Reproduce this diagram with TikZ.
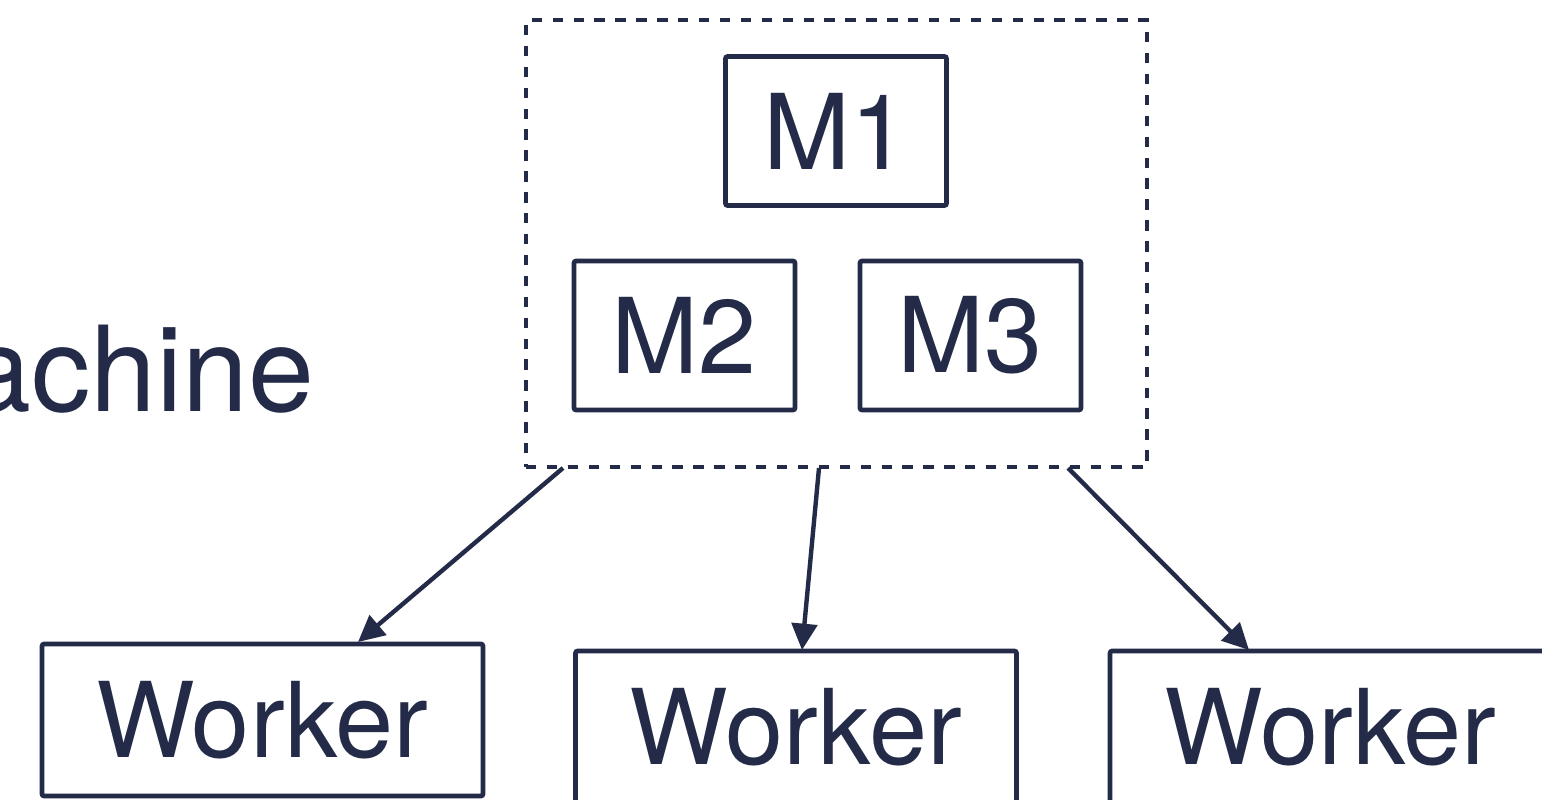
\documentclass[tikz,border=0pt]{standalone}
\usepackage{fontspec}
\setmainfont{TeX Gyre Heros}
\usetikzlibrary{arrows.meta}
\definecolor{ink}{RGB}{35,43,72}
\begin{document}
\begin{tikzpicture}[x=0.02cm,y=-0.02cm,
  box/.style={draw=ink, line width=2.7pt, rounded corners=1.2pt, inner sep=0pt,
    text=ink, font=\fontsize{59.5}{70}\selectfont},
  mbox/.style={box, minimum width=4.42cm, minimum height=2.98cm},
  wbox/.style={box, minimum width=8.82cm, minimum height=3.04cm},
  group/.style={draw=ink, line width=2.7pt, dash pattern=on 5.9pt off 6.0pt, inner sep=0pt},
  link/.style={draw=ink, line width=2.5pt, -{Triangle[length=15pt,width=14.5pt]}}]
\useasboundingbox (0,0) rectangle (1542,799);
\clip (0,0) rectangle (1542,799);
\fill[white] (0,0) rectangle (1542,799);

% side label
\node[anchor=base west, text=ink, inner sep=0pt, font=\fontsize{67.5}{80}\selectfont] (lbl) at (-35,411) {achine};

% master group
\node[group, minimum width=12.42cm, minimum height=8.94cm] (grp) at (836.5,243.5) {};
\node[mbox] (m1) at (836,131) {M1};
\node[mbox] (m2) at (684.5,335.5) {M2};
\node[mbox] (m3) at (970.5,335.5) {M3};

% workers
\node[wbox] (w1) at (262.5,720) {Worker};
\node[wbox] (w2) at (796,727) {Worker};
\node[wbox] (w3) at (1330.5,727) {Worker};

% connectors
\coordinate (s1) at (563,468);
\coordinate (s2) at (819,468);
\coordinate (s3) at (1068,468);
\coordinate (t1) at (358,642);
\coordinate (t2) at (802,650);
\coordinate (t3) at (1249,650);
\draw[link] (s1) -- (t1);
\draw[link] (s2) -- (t2);
\draw[link] (s3) -- (t3);
\end{tikzpicture}
\end{document}
